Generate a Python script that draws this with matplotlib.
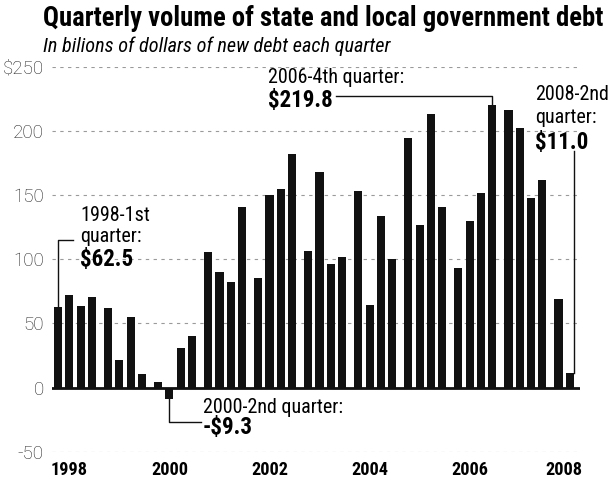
import matplotlib
matplotlib.use("Agg")
import matplotlib.pyplot as plt
from matplotlib import font_manager

# quarterly new debt, billions of dollars, 1998 Q1 .. 2008 Q2
years = list(range(1998, 2009))
debt = [62.5, 72.3, 63.6, 70.5,      # 1998
        62.3, 21.1, 55.2, 10.3,      # 1999
        4.6, -9.3, 30.8, 39.8,       # 2000
        105.7, 89.8, 82.6, 140.5,    # 2001
        85.4, 149.8, 154.4, 182.0,   # 2002
        106.5, 168.0, 96.2, 102.0,   # 2003
        153.0, 64.6, 133.8, 100.5,   # 2004
        194.4, 127.0, 213.4, 141.0,  # 2005
        93.0, 129.5, 151.8, 219.8,   # 2006
        216.0, 202.0, 148.0, 162.0,  # 2007
        69.2, 11.0]                  # 2008
y_ticks = [-50, 0, 50, 100, 150, 200, 250]
y_labels = ["-50", "0", "50", "100", "150", "200", "$250"]
year_labels = ["1998", "2000", "2002", "2004", "2006", "2008"]

available = {f.name for f in font_manager.fontManager.ttflist}


def pick(*names):
    for n in names:
        if n in available:
            return n
    return "DejaVu Sans"


cond = pick("Roboto Condensed", "Liberation Sans Narrow", "Roboto", "DejaVu Sans")
light = pick("Roboto", "Lato", "DejaVu Sans")

fig = plt.figure(figsize=(6.11, 4.84), dpi=100)
ax = fig.add_axes([52 / 611, 1 - 451.7 / 484, 528 / 611, 385 / 484])

# bars grouped by year with a small gap between years
gap = 4.43
pos = [yi * gap + q for yi in range(len(years)) for q in range(4)][:len(debt)]
ax.bar(pos, debt, width=0.72, color="#111111", zorder=3)

ax.set_xlim(-0.53, 46.2)
ax.set_ylim(-50, 250)
ax.set_yticks(y_ticks)
ax.set_yticklabels(y_labels, fontfamily=light, fontweight="light", fontsize=13.5,
                   color="#222222")
ax.yaxis.grid(True, linestyle=(0, (3, 4)), color="#9a9a9a", lw=0.8)
ax.set_axisbelow(True)
ax.axhline(0, color="#111111", lw=2, zorder=4)
for s in ax.spines.values():
    s.set_visible(False)

renderer = fig.canvas.get_renderer()


def fit(t, width_px):
    w = t.get_window_extent(renderer).width
    t.set_fontsize(t.get_fontsize() * width_px / w)
    return t.get_fontsize()


probe = ax.text(0, 0, "1998", fontfamily=cond, fontweight="bold", fontsize=13)
yr = fit(probe, 37)
probe.remove()

label_offset = [1, 1, 1, 1, 1, 0.45]
ax.set_xticks([(int(y) - 1998) * gap + o for y, o in zip(year_labels, label_offset)])
ax.set_xticklabels(year_labels, fontfamily=cond, fontweight="bold")
ax.tick_params(axis="both", length=0)
ax.tick_params(axis="x", pad=7, labelsize=yr)
ax.tick_params(axis="y", pad=6)

title = fig.text(43 / 611, 1 - 18 / 484, "Quarterly volume of state and local government debt",
                 fontfamily=cond, fontweight="black", fontsize=16, va="center", ha="left")
fit(title, 559)
sub = fig.text(43 / 611, 1 - 46 / 484, "In bilions of dollars of new debt each quarter",
               fontfamily=cond, style="italic", fontsize=12, va="center", ha="left")
fit(sub, 345)

# font sizes for annotations, sized from reference widths
probe = ax.text(0, 0, "2000-2nd quarter:", fontfamily=cond, fontsize=12)
reg = fit(probe, 140)
probe.remove()
probe = ax.text(0, 0, "$219.8", fontfamily=cond, fontweight="heavy", fontsize=14)
big = fit(probe, 65)
probe.remove()


def note(x, y, s, bold=False):
    ax.text(x, y, s, fontfamily=cond, fontweight="heavy" if bold else "normal",
            fontsize=big if bold else reg, va="center", ha="left", zorder=5)


# 1998 Q1
note(1.95, 134.4, "1998-1st")
note(1.95, 117.3, "quarter:")
note(1.95, 100.0, "$62.5", bold=True)
ax.plot([pos[0], pos[0], 1.35], [debt[0], 115, 115], color="#111111", lw=1, zorder=5)

# 2000 Q2
note(12.8, -15.2, "2000-2nd quarter:")
note(12.8, -31.5, "-$9.3", bold=True)
ax.plot([pos[9], pos[9], 12.7], [debt[9], -26.6, -26.6], color="#111111", lw=1, zorder=5)

# 2006 Q4
note(18.6, 241.2, "2006-4th quarter:")
note(18.6, 223.5, "$219.8", bold=True)
ax.plot([24.6, pos[35], pos[35]], [227, 227, debt[35]], color="#111111", lw=1, zorder=5)

# 2008 Q2
note(42.2, 228.0, "2008-2nd")
note(42.2, 210.7, "quarter:")
note(42.2, 191.0, "$11.0", bold=True)
ax.plot([pos[41] + 0.35, pos[41] + 0.35], [184, debt[41]], color="#111111", lw=1, zorder=5)

fig.savefig("out.png", dpi=100)
